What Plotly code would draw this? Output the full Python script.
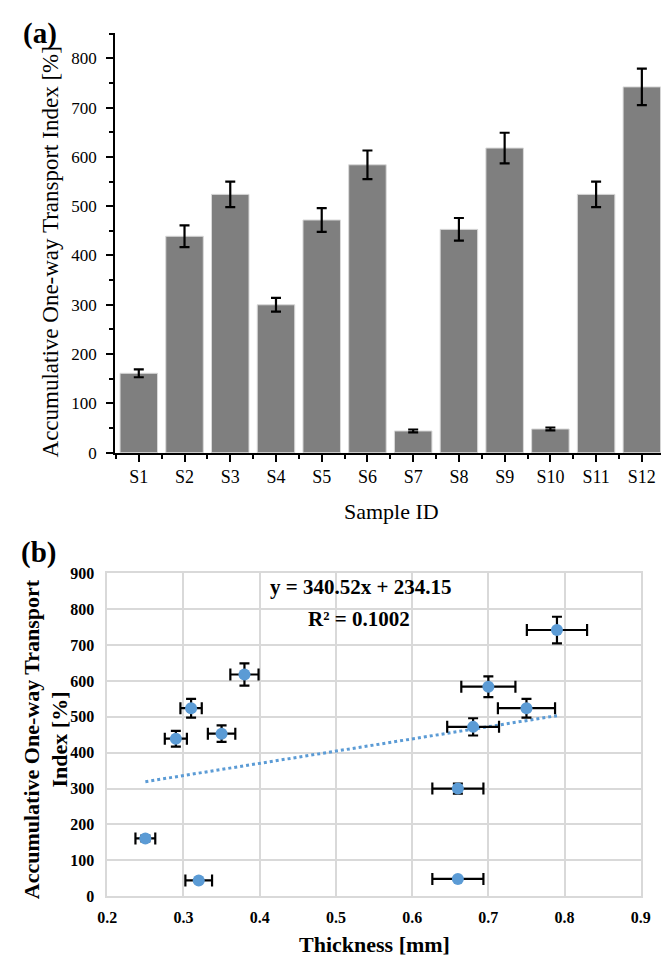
import plotly.graph_objects as go

# ---------------- data ----------------
samples = ["S1", "S2", "S3", "S4", "S5", "S6", "S7", "S8", "S9", "S10", "S11", "S12"]
oti = [161, 439, 524, 300, 472, 584, 44, 453, 618, 48, 524, 742]
oti_err = [8, 22, 26, 14, 24, 29, 3, 23, 31, 3, 26, 37]
thickness = [0.25, 0.29, 0.31, 0.66, 0.68, 0.70, 0.32, 0.35, 0.38, 0.66, 0.75, 0.79]
thickness_err = [0.013, 0.0145, 0.014, 0.0335, 0.034, 0.0355, 0.0175, 0.018, 0.0185, 0.0335, 0.0375, 0.0395]
fit_slope = 340.52
fit_intercept = 234.15
yticks_a = [0, 100, 200, 300, 400, 500, 600, 700, 800]
xticks_b = [0.2, 0.3, 0.4, 0.5, 0.6, 0.7, 0.8, 0.9]
yticks_b = [0, 100, 200, 300, 400, 500, 600, 700, 800, 900]

W, H = 669, 960
SERIF = "Liberation Serif, Times New Roman, serif"

def px(x):
    return x / W

def py(y):
    return 1 - y / H

fig = go.Figure()

xpos = list(range(len(samples)))

# ---------------- (a) bar chart ----------------
fig.add_trace(go.Bar(
    x=xpos, y=oti, width=0.82,
    marker=dict(color="#7f7f7f", line=dict(color="#d9d9d9", width=1)),
    error_y=dict(type="data", array=oti_err, color="black", thickness=2.2, width=5),
    xaxis="x", yaxis="y", showlegend=False,
))

# ---------------- (b) scatter ----------------
x_fit = [min(thickness), max(thickness)]
y_fit = [fit_slope * v + fit_intercept for v in x_fit]
fig.add_trace(go.Scatter(
    x=x_fit, y=y_fit, mode="lines",
    line=dict(color="#5b9bd5", width=3, dash="dot"),
    xaxis="x2", yaxis="y2", showlegend=False,
))
fig.add_trace(go.Scatter(
    x=thickness, y=oti, mode="markers",
    marker=dict(color="#5b9bd5", size=12),
    error_x=dict(type="data", array=thickness_err, color="black", thickness=2.2, width=6),
    error_y=dict(type="data", array=oti_err, color="black", thickness=2.2, width=5),
    xaxis="x2", yaxis="y2", showlegend=False,
))

fig.update_layout(
    width=W, height=H,
    margin=dict(l=0, r=0, t=0, b=0),
    paper_bgcolor="white", plot_bgcolor="white",
    font=dict(family=SERIF, color="black"),
    xaxis=dict(
        domain=[px(100), 1.0], anchor="y",
        range=[-0.52, 11.55],
        tickmode="array", tickvals=xpos, ticktext=samples,
        ticks="outside", ticklen=7, tickwidth=1.5, tickcolor="black",
        minor=dict(tickmode="linear", tick0=0.5, dtick=1, ticks="outside", ticklen=4, tickwidth=1.5, tickcolor="black"),
        showline=True, linecolor="black", linewidth=1.8,
        showgrid=False, zeroline=False,
        tickfont=dict(family=SERIF, size=18, color="black"),
    ),
    yaxis=dict(
        domain=[py(445), py(17)], anchor="x",
        range=[0, 852],
        tickmode="array", tickvals=yticks_a,
        ticks="outside", ticklen=7, tickwidth=1.5, tickcolor="black",
        minor=dict(tickmode="linear", tick0=50, dtick=100, ticks="outside", ticklen=4, tickwidth=1.5, tickcolor="black"),
        showline=True, linecolor="black", linewidth=1.8,
        showgrid=False, zeroline=False,
        ticklabelstandoff=6,
        tickfont=dict(family=SERIF, size=17, color="black"),
    ),
    xaxis2=dict(
        domain=[px(92), px(642)], anchor="y2",
        range=[0.2, 0.9],
        tickmode="array", tickvals=xticks_b, ticktext=[f"{v:.1f}" for v in xticks_b],
        ticks="outside", ticklen=6, tickcolor="rgba(0,0,0,0)",
        showgrid=True, gridcolor="#d9d9d9", gridwidth=1.5,
        showline=True, linecolor="#d9d9d9", linewidth=1.5, mirror=True,
        zeroline=False,
        tickfont=dict(family=SERIF, size=16, color="black", weight="bold"),
    ),
    yaxis2=dict(
        domain=[py(897), py(568)], anchor="x2",
        range=[0, 900],
        tickmode="array", tickvals=yticks_b,
        ticks="outside", ticklen=8, tickcolor="rgba(0,0,0,0)",
        showgrid=True, gridcolor="#d9d9d9", gridwidth=1.5,
        showline=True, linecolor="#d9d9d9", linewidth=1.5, mirror=True,
        zeroline=False,
        tickfont=dict(family=SERIF, size=16, color="black", weight="bold"),
    ),
)

annotations = [
    dict(text="<b>(a)</b>", x=px(3), y=py(18), xanchor="left", yanchor="middle",
         font=dict(family=SERIF, size=29, color="black")),
    dict(text="Accumulative One-way Transport Index [%]", x=px(34), y=py(240), textangle=-90,
         xanchor="center", yanchor="middle", font=dict(family=SERIF, size=23, color="black")),
    dict(text="Sample ID", x=px(385), y=py(505), xanchor="center", yanchor="middle",
         font=dict(family=SERIF, size=22, color="black")),
    dict(text="<b>(b)</b>", x=px(1), y=py(547), xanchor="left", yanchor="middle",
         font=dict(family=SERIF, size=29, color="black")),
    dict(text="<b>Accumulative One-way Transport<br>Index [%]</b>", x=px(-1), y=py(737), textangle=-90,
         xanchor="left", yanchor="middle",
         font=dict(family=SERIF, size=22, color="black")),
    dict(text="<b>Thickness [mm]</b>", x=px(367), y=py(946), xanchor="center", yanchor="middle",
         font=dict(family=SERIF, size=22, color="black")),
    dict(text="<b>y = 340.52x + 234.15</b>", x=px(353), y=py(582), xanchor="center", yanchor="middle",
         font=dict(family=SERIF, size=21, color="black")),
    dict(text="<b>R² = 0.1002</b>", x=px(352), y=py(615), xanchor="center", yanchor="middle",
         font=dict(family=SERIF, size=21, color="black")),
]
for a in annotations:
    a.update(xref="paper", yref="paper", showarrow=False)
fig.update_layout(annotations=annotations)

fig.write_html("out.html")
